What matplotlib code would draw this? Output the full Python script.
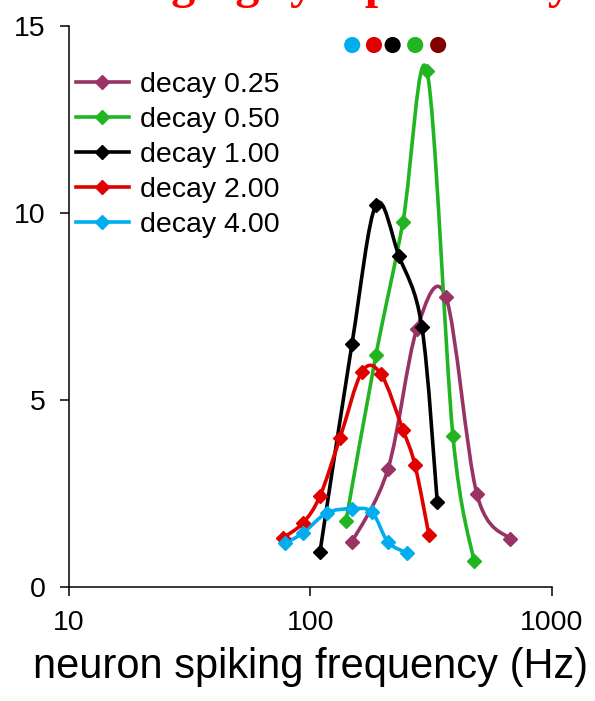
import numpy as np
import matplotlib
matplotlib.use("Agg")
import matplotlib.pyplot as plt
from matplotlib.path import Path
from matplotlib.patches import PathPatch
from matplotlib.lines import Line2D

# === DATA ===
labels = ["decay 0.25", "decay 0.50", "decay 1.00", "decay 2.00", "decay 4.00"]
colors = ["#993366", "#22B522", "#000000", "#E00000", "#00AEEF"]

freq_025 = [148.6, 209.5, 276.0, 364.0, 489.0, 669.8]
rate_025 = [1.21, 3.16, 6.91, 7.76, 2.49, 1.29]

freq_050 = [140.4, 186.8, 241.6, 303.7, 389.0, 475.0]
rate_050 = [1.77, 6.21, 9.77, 13.81, 4.05, 0.70]

freq_100 = [109.6, 148.6, 186.8, 232.6, 289.5, 335.0]
rate_100 = [0.94, 6.50, 10.22, 8.86, 6.96, 2.29]

freq_200 = [77.0, 93.2, 109.6, 132.6, 163.5, 196.0, 241.6, 270.9, 309.6]
rate_200 = [1.32, 1.72, 2.44, 3.99, 5.76, 5.70, 4.21, 3.27, 1.40]

freq_400 = [78.5, 93.2, 117.1, 148.6, 179.8, 209.5, 251.0]
rate_400 = [1.18, 1.45, 1.99, 2.10, 2.01, 1.21, 0.92]

series = [(freq_025, rate_025), (freq_050, rate_050), (freq_100, rate_100),
          (freq_200, rate_200), (freq_400, rate_400)]

dot_freq = [149.0, 183.3, 219.0, 271.6, 338.0]
dot_level = 14.5
dot_colors = ["#00AEEF", "#E00000", "#000000", "#22B522", "#800000"]

x_ticks = [10, 100, 1000]
y_ticks = [0, 5, 10, 15]


def smooth_path(xs, ys):
    # excel style smoothed line: catmull-rom as cubic bezier in log-x space
    lx = np.log10(xs)
    pts = np.column_stack([lx, ys])
    n = len(pts)
    verts = [pts[0]]
    codes = [Path.MOVETO]
    for i in range(n - 1):
        p0 = pts[i - 1] if i > 0 else pts[i]
        p1 = pts[i]
        p2 = pts[i + 1]
        p3 = pts[i + 2] if i + 2 < n else pts[i + 1]
        c1 = p1 + (p2 - p0) / 6.0
        c2 = p2 - (p3 - p1) / 6.0
        verts += [c1, c2, p2]
        codes += [Path.CURVE4] * 3
    verts = np.array(verts)
    verts[:, 0] = 10 ** verts[:, 0]
    return Path(verts, codes)


plt.rcParams['font.family'] = ['Liberation Sans', 'DejaVu Sans']

fig = plt.figure(figsize=(5.95, 7.01), dpi=100)
ax = fig.add_axes([68.7 / 595, (701 - 587.3) / 701, (552 - 68.7) / 595, (587.3 - 26.3) / 701])

handles = []
for (xs, ys), lab, col in zip(series, labels, colors):
    patch = PathPatch(smooth_path(xs, ys), fill=False, edgecolor=col, lw=2.6,
                      capstyle='round', joinstyle='round')
    ax.add_patch(patch)
    ax.plot(xs, ys, linestyle='none', marker='D', ms=7.5, color=col, mec=col)
    handles.append(Line2D([], [], color=col, lw=2.6, marker='D', ms=7.5, label=lab))

ax.scatter(dot_freq, [dot_level] * len(dot_freq), s=135, c=dot_colors,
           edgecolors='none', clip_on=False, zorder=5)

ax.set_xscale('log')
ax.set_xlim(10, 1000)
ax.set_ylim(0, 15)
ax.set_xticks(x_ticks)
ax.set_xticklabels([str(t) for t in x_ticks])
ax.xaxis.set_minor_locator(matplotlib.ticker.NullLocator())
ax.set_yticks(y_ticks)

for s in ['top', 'right']:
    ax.spines[s].set_visible(False)
for s in ['left', 'bottom']:
    ax.spines[s].set_linewidth(1.1)
ax.tick_params(direction='out', length=6.5, width=1.1, labelsize=20.5, pad=10)

ax.set_xlabel("neuron spiking frequency (Hz)", fontsize=30, labelpad=8)

leg = ax.legend(handles=handles, loc='upper left', bbox_to_anchor=(-0.0083, 0.939),
                frameon=False, fontsize=20.5, handlelength=1.85, handletextpad=0.4,
                labelspacing=0.32, borderaxespad=0.0)

fig.text(315 / 595, 1 + 1.5 / 701, "Changing synaptic decay", color='red',
         family=['Liberation Serif', 'DejaVu Serif'], weight='bold', fontsize=34.6,
         ha='center', va='baseline')

fig.savefig("out.png", dpi=100)
